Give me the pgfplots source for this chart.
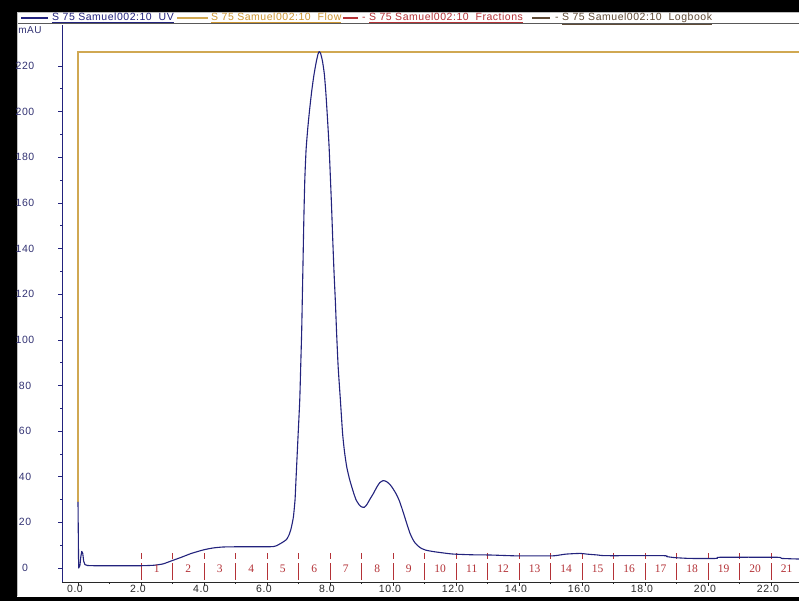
\documentclass[border=0pt]{standalone}
\usepackage{pgfplots}
\pgfplotsset{compat=1.18}
\usepackage{fontspec}
\setmainfont{Liberation Sans}
\newfontfamily\tickfont[LetterSpace=5]{Liberation Sans}
\newfontfamily\legfont[LetterSpace=5]{Liberation Sans}
\newfontfamily\fracfont{Liberation Serif}
\definecolor{uvblue}{RGB}{35,35,125}
\definecolor{flowline}{RGB}{208,168,82}
\definecolor{flowtext}{RGB}{205,150,50}
\definecolor{fracred}{RGB}{180,50,55}
\definecolor{ylab}{RGB}{50,50,115}
\definecolor{xlab}{RGB}{40,40,40}
\definecolor{logbook}{RGB}{95,75,55}
\begin{document}
\begin{tikzpicture}[x=1pt,y=1pt]
\fill[black] (0,0) rectangle (799,601);
\fill[white] (17,4) rectangle (799,589);
\draw[gray!50, line width=0.8pt] (17.5,4.5) -- (17.5,588.5) -- (799,588.5);
\draw[black!65, line width=0.8pt] (18,577.5) -- (799,577.5);
\begin{axis}[
  at={(62pt,19pt)}, anchor=south west,
  scale only axis, width=737pt, height=557pt,
  xmin=-0.508, xmax=22.89, ymin=-6.13, ymax=237.95,
  axis x line*=bottom, axis y line*=left,
  x axis line style={xlab, line width=0.8pt},
  y axis line style={uvblue, line width=0.8pt},
  xtick={0,2,...,22},
  xticklabels={0.0,2.0,4.0,6.0,8.0,10.0,12.0,14.0,16.0,18.0,20.0,22.0},
  ytick={0,20,...,220},
  minor x tick num=1, minor y tick num=1,
  tick align=outside, major tick length=4pt, minor tick length=2pt,
  xtick style={xlab, line width=0.6pt},
  ytick style={uvblue, line width=0.6pt},
  /pgf/number format/assume math mode=true,
  xticklabel style={font=\tickfont\fontsize{10.5}{11}\selectfont, text=xlab, anchor=center, yshift=-3.3pt, xshift=-3pt},
  yticklabel style={font=\tickfont\fontsize{10.5}{11}\selectfont, text=ylab, anchor=center, xshift=-33pt},
  unbounded coords=jump,
  clip=true,
]
% Flow
\addplot[flowline, line width=1.5pt] coordinates {(0,29) (0,226.2) (23,226.2)};
% Fraction marks
\addplot[fracred, line width=0.8pt] coordinates {
(2,6.4)(2,4.0)(2,nan)(2,2.0)(2,-5.3)(2,nan)
(3,6.4)(3,4.0)(3,nan)(3,2.0)(3,-5.3)(3,nan)
(4,6.4)(4,4.0)(4,nan)(4,2.0)(4,-5.3)(4,nan)
(5,6.4)(5,4.0)(5,nan)(5,2.0)(5,-5.3)(5,nan)
(6,6.4)(6,4.0)(6,nan)(6,2.0)(6,-5.3)(6,nan)
(7,6.4)(7,4.0)(7,nan)(7,2.0)(7,-5.3)(7,nan)
(8,6.4)(8,4.0)(8,nan)(8,2.0)(8,-5.3)(8,nan)
(9,6.4)(9,4.0)(9,nan)(9,2.0)(9,-5.3)(9,nan)
(10,6.4)(10,4.0)(10,nan)(10,2.0)(10,-5.3)(10,nan)
(11,6.4)(11,4.0)(11,nan)(11,2.0)(11,-5.3)(11,nan)
(12,6.4)(12,4.0)(12,nan)(12,2.0)(12,-5.3)(12,nan)
(13,6.4)(13,4.0)(13,nan)(13,2.0)(13,-5.3)(13,nan)
(14,6.4)(14,4.0)(14,nan)(14,2.0)(14,-5.3)(14,nan)
(15,6.4)(15,4.0)(15,nan)(15,2.0)(15,-5.3)(15,nan)
(16,6.4)(16,4.0)(16,nan)(16,2.0)(16,-5.3)(16,nan)
(17,6.4)(17,4.0)(17,nan)(17,2.0)(17,-5.3)(17,nan)
(18,6.4)(18,4.0)(18,nan)(18,2.0)(18,-5.3)(18,nan)
(19,6.4)(19,4.0)(19,nan)(19,2.0)(19,-5.3)(19,nan)
(20,6.4)(20,4.0)(20,nan)(20,2.0)(20,-5.3)(20,nan)
(21,6.4)(21,4.0)(21,nan)(21,2.0)(21,-5.3)(21,nan)
(22,6.4)(22,4.0)(22,nan)(22,2.0)(22,-5.3)
};
% Fraction numbers
\addplot[draw=none, nodes near coords, point meta=explicit symbolic,
  nodes near coords style={anchor=center, font=\fracfont\fontsize{11.5}{12}\selectfont, text=fracred}]
coordinates {
(2.5,-0.4)[1] (3.5,-0.4)[2] (4.5,-0.4)[3] (5.5,-0.4)[4] (6.5,-0.4)[5]
(7.5,-0.4)[6] (8.5,-0.4)[7] (9.5,-0.4)[8] (10.5,-0.4)[9] (11.5,-0.4)[10]
(12.5,-0.4)[11] (13.5,-0.4)[12] (14.5,-0.4)[13] (15.5,-0.4)[14] (16.5,-0.4)[15]
(17.5,-0.4)[16] (18.5,-0.4)[17] (19.5,-0.4)[18] (20.5,-0.4)[19] (21.5,-0.4)[20]
(22.5,-0.4)[21]
};
% UV: injection spike
\addplot[uvblue, line width=1.1pt, line join=round] coordinates {
(0,29) (0.02,0) (0.06,1) (0.09,5) (0.12,7.3) (0.15,6.5) (0.18,3) (0.22,1.5)
(0.3,1.1) (0.5,1)
};
% UV: rest of the run
\addplot[uvblue, line width=1.1pt, line join=round, smooth, tension=0.35] coordinates {
(0.5,1) (1.0,1) (1.5,1) (2.0,1) (2.4,1.2) (2.7,1.8) (3.0,3.3)
(3.3,4.8) (3.6,6.4) (4.0,8.0) (4.3,8.8) (4.6,9.2) (5.0,9.3) (5.5,9.3) (6.0,9.3)
(6.2,9.4) (6.31,9.8) (6.4,10.5) (6.5,11.3) (6.62,12.5) (6.7,14.5) (6.76,17)
(6.8,19.5) (6.84,22.5) (6.89,29.8) (6.91,35.6) (6.94,44.4) (6.99,59) (7.04,73.6)
(7.07,88.2) (7.10,103) (7.12,117) (7.145,135) (7.17,153) (7.20,170) (7.24,183)
(7.29,192) (7.35,200.5) (7.42,209) (7.49,216) (7.56,221.5) (7.62,225.2) (7.66,226.3)
(7.70,225.6) (7.76,222.2) (7.82,216.5) (7.87,208) (7.92,197) (7.97,185) (8.01,172)
(8.05,158.3) (8.09,143) (8.13,129) (8.17,117) (8.21,103) (8.26,88) (8.33,73.6)
(8.40,59) (8.46,51) (8.53,44.4) (8.61,39.5) (8.69,35.6) (8.76,32.5) (8.83,29.8)
(8.92,27.8) (9.0,26.8) (9.09,26.6) (9.17,27.8) (9.27,30.2) (9.38,32.7) (9.48,35.3)
(9.58,37.4) (9.69,38.3) (9.79,37.9) (9.88,36.9) (9.96,35.6) (10.1,32.5) (10.2,29.5)
(10.3,25.5) (10.38,22) (10.46,18.5) (10.54,15.2) (10.62,12.8) (10.7,11) (10.8,9.6)
(10.9,8.6) (11.05,7.8) (11.28,7.2) (11.6,6.6) (11.92,6.1) (12.5,5.8) (13.08,5.7)
(13.5,5.5) (14,5.3) (15,5.3) (15.2,5.5) (15.5,6.1) (15.94,6.4) (16.15,6.1)
(16.5,5.7) (16.78,5.4) (18.6,5.4) (18.69,5.0) (18.85,4.7) (19.0,4.5) (19.43,4.2)
(20.27,4.2) (20.38,4.7) (22.2,4.7) (22.34,4.2) (22.95,3.9)
};
\end{axis}
% mAU label
\node[font=\tickfont\fontsize{10}{11}\selectfont, text=ylab, anchor=center] at (30,570.5) {mAU};
% legend
\begin{scope}[every node/.style={font=\legfont\fontsize{10.5}{12}\selectfont, anchor=base west, inner sep=0pt}]
\draw[uvblue, line width=1.2pt] (21,583) -- (48,583);
\node[text=uvblue] at (52,580.3) {\underline{S 75 Samuel002:10\ \ UV}};
\draw[flowline, line width=1.2pt] (177,583) -- (208,583);
\node[text=flowtext] at (211,580.3) {\underline{S 75 Samuel002:10\ \ Flow}};
\draw[fracred, line width=1.2pt] (343,583) -- (358,583);
\node[text=fracred] at (362,580.3) {- \underline{S 75 Samuel002:10\ \ Fractions}};
\draw[logbook, line width=1.2pt] (532,583) -- (550,583);
\node[text=logbook] at (555,580.3) {- \underline{S 75 Samuel002:10\ \ Logbook}};
\end{scope}
\pgfresetboundingbox
\path[use as bounding box] (0,0) rectangle (799,601);
\end{tikzpicture}
\end{document}
